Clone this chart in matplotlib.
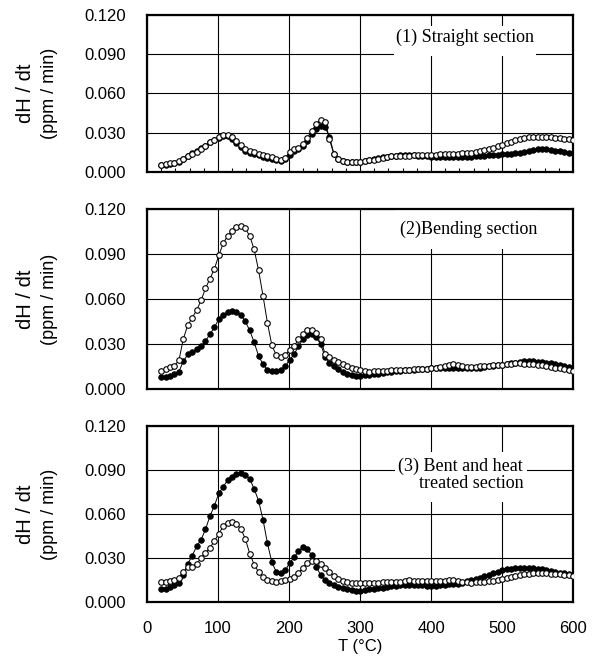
import matplotlib
matplotlib.use("Agg")
import matplotlib.pyplot as plt
import numpy as np
from matplotlib.patches import Rectangle
from matplotlib.ticker import MultipleLocator, FormatStrFormatter

plt.rcParams["font.family"] = ["Liberation Sans", "DejaVu Sans"]

# measurement temperatures (deg C)
temperature = np.linspace(20, 600, 94)

# (1) straight section
straight_open = [
    0.0054, 0.0059, 0.0065, 0.0067, 0.0082, 0.0100, 0.0120, 0.0138, 0.0155, 0.0178,
    0.0198, 0.0226, 0.0245, 0.0270, 0.0283, 0.0281, 0.0267, 0.0235, 0.0203, 0.0175,
    0.0160, 0.0150, 0.0141, 0.0130, 0.0119, 0.0112, 0.0098, 0.0092, 0.0110, 0.0150,
    0.0175, 0.0185, 0.0215, 0.0260, 0.0315, 0.0365, 0.0400, 0.0385, 0.0250, 0.0135,
    0.0097, 0.0084, 0.0078, 0.0075, 0.0074, 0.0076, 0.0082, 0.0088, 0.0095, 0.0103,
    0.0110, 0.0115, 0.0120, 0.0122, 0.0123, 0.0124, 0.0125, 0.0126, 0.0127, 0.0128,
    0.0129, 0.0130, 0.0132, 0.0134, 0.0135, 0.0137, 0.0138, 0.0140, 0.0142, 0.0145,
    0.0148, 0.0152, 0.0158, 0.0165, 0.0175, 0.0185, 0.0195, 0.0205, 0.0218, 0.0232,
    0.0245, 0.0253, 0.0260, 0.0265, 0.0267, 0.0268, 0.0267, 0.0266, 0.0265, 0.0263,
    0.0260, 0.0255, 0.0250, 0.0245,
]
straight_filled = [
    0.0050, 0.0055, 0.0060, 0.0065, 0.0080, 0.0100, 0.0122, 0.0142, 0.0160, 0.0182,
    0.0202, 0.0226, 0.0243, 0.0262, 0.0275, 0.0272, 0.0255, 0.0222, 0.0190, 0.0162,
    0.0146, 0.0137, 0.0128, 0.0118, 0.0108, 0.0100, 0.0090, 0.0085, 0.0098, 0.0130,
    0.0160, 0.0175, 0.0200, 0.0240, 0.0290, 0.0330, 0.0352, 0.0345, 0.0270, 0.0140,
    0.0098, 0.0085, 0.0080, 0.0078, 0.0078, 0.0080, 0.0085, 0.0090, 0.0097, 0.0105,
    0.0112, 0.0117, 0.0122, 0.0125, 0.0127, 0.0128, 0.0128, 0.0127, 0.0125, 0.0122,
    0.0120, 0.0118, 0.0117, 0.0116, 0.0115, 0.0114, 0.0113, 0.0113, 0.0114, 0.0116,
    0.0118, 0.0120, 0.0122, 0.0124, 0.0126, 0.0128, 0.0131, 0.0134, 0.0137, 0.0140,
    0.0144, 0.0148, 0.0153, 0.0160, 0.0167, 0.0172, 0.0174, 0.0172, 0.0168, 0.0163,
    0.0158, 0.0153, 0.0148, 0.0143,
]

# (2) bending section
bending_open = [
    0.0122, 0.0133, 0.0149, 0.0156, 0.0190, 0.0335, 0.0425, 0.0475, 0.0525, 0.0590,
    0.0670, 0.0735, 0.0800, 0.0890, 0.0970, 0.1020, 0.1055, 0.1082, 0.1088, 0.1070,
    0.1020, 0.0930, 0.0790, 0.0620, 0.0440, 0.0290, 0.0225, 0.0216, 0.0225, 0.0260,
    0.0285, 0.0330, 0.0365, 0.0390, 0.0395, 0.0375, 0.0330, 0.0235, 0.0212, 0.0196,
    0.0182, 0.0168, 0.0155, 0.0142, 0.0130, 0.0124, 0.0118, 0.0116, 0.0117, 0.0118,
    0.0120, 0.0122, 0.0124, 0.0126, 0.0127, 0.0128, 0.0129, 0.0130, 0.0131, 0.0133,
    0.0135, 0.0138, 0.0140, 0.0145, 0.0152, 0.0160, 0.0165, 0.0160, 0.0152, 0.0148,
    0.0147, 0.0148, 0.0150, 0.0152, 0.0155, 0.0157, 0.0160, 0.0162, 0.0165, 0.0168,
    0.0170, 0.0170, 0.0169, 0.0168, 0.0166, 0.0162, 0.0157, 0.0152, 0.0148, 0.0143,
    0.0138, 0.0133, 0.0127, 0.0122,
]
bending_filled = [
    0.0078, 0.0082, 0.0089, 0.0100, 0.0115, 0.0185, 0.0230, 0.0246, 0.0265, 0.0285,
    0.0320, 0.0365, 0.0410, 0.0466, 0.0490, 0.0510, 0.0520, 0.0512, 0.0495, 0.0450,
    0.0390, 0.0310, 0.0220, 0.0165, 0.0128, 0.0117, 0.0118, 0.0128, 0.0150, 0.0195,
    0.0230, 0.0285, 0.0330, 0.0360, 0.0365, 0.0345, 0.0300, 0.0215, 0.0172, 0.0150,
    0.0130, 0.0115, 0.0102, 0.0093, 0.0088, 0.0087, 0.0090, 0.0094, 0.0098, 0.0102,
    0.0106, 0.0110, 0.0114, 0.0118, 0.0121, 0.0124, 0.0126, 0.0128, 0.0130, 0.0133,
    0.0136, 0.0138, 0.0139, 0.0139, 0.0138, 0.0138, 0.0140, 0.0142, 0.0140, 0.0138,
    0.0138, 0.0140, 0.0143, 0.0147, 0.0150, 0.0154, 0.0158, 0.0162, 0.0167, 0.0172,
    0.0176, 0.0180, 0.0184, 0.0187, 0.0186, 0.0183, 0.0180, 0.0176, 0.0172, 0.0166,
    0.0160, 0.0153, 0.0146, 0.0140,
]

# (3) bent and heat treated section
treated_open = [
    0.0134, 0.0139, 0.0145, 0.0150, 0.0165, 0.0205, 0.0238, 0.0242, 0.0262, 0.0298,
    0.0335, 0.0370, 0.0415, 0.0465, 0.0515, 0.0540, 0.0548, 0.0530, 0.0500, 0.0430,
    0.0330, 0.0255, 0.0205, 0.0172, 0.0152, 0.0142, 0.0138, 0.0140, 0.0147, 0.0155,
    0.0170, 0.0200, 0.0235, 0.0265, 0.0280, 0.0278, 0.0260, 0.0230, 0.0205, 0.0180,
    0.0158, 0.0142, 0.0135, 0.0132, 0.0131, 0.0131, 0.0132, 0.0132, 0.0133, 0.0133,
    0.0134, 0.0134, 0.0135, 0.0135, 0.0136, 0.0140, 0.0148, 0.0145, 0.0140, 0.0140,
    0.0142, 0.0143, 0.0142, 0.0141, 0.0145, 0.0150, 0.0148, 0.0142, 0.0137, 0.0134,
    0.0133, 0.0134, 0.0136, 0.0138, 0.0140, 0.0143, 0.0148, 0.0155, 0.0162, 0.0170,
    0.0177, 0.0183, 0.0188, 0.0192, 0.0195, 0.0196, 0.0196, 0.0195, 0.0194, 0.0192,
    0.0189, 0.0186, 0.0183, 0.0180,
]
treated_filled = [
    0.0086, 0.0090, 0.0105, 0.0116, 0.0128, 0.0185, 0.0260, 0.0315, 0.0380, 0.0425,
    0.0495, 0.0585, 0.0655, 0.0740, 0.0785, 0.0830, 0.0855, 0.0872, 0.0877, 0.0868,
    0.0840, 0.0770, 0.0690, 0.0560, 0.0400, 0.0270, 0.0205, 0.0200, 0.0215, 0.0265,
    0.0305, 0.0345, 0.0375, 0.0360, 0.0320, 0.0240, 0.0185, 0.0148, 0.0132, 0.0117,
    0.0102, 0.0094, 0.0086, 0.0080, 0.0077, 0.0078, 0.0082, 0.0086, 0.0089, 0.0093,
    0.0098, 0.0103, 0.0108, 0.0112, 0.0115, 0.0116, 0.0116, 0.0115, 0.0114, 0.0113,
    0.0112, 0.0111, 0.0112, 0.0114, 0.0117, 0.0120, 0.0122, 0.0124, 0.0128, 0.0140,
    0.0148, 0.0155, 0.0165, 0.0175, 0.0185, 0.0195, 0.0205, 0.0215, 0.0222, 0.0228,
    0.0232, 0.0234, 0.0234, 0.0233, 0.0230, 0.0226, 0.0222, 0.0218, 0.0214, 0.0208,
    0.0200, 0.0195, 0.0190, 0.0184,
]

panel_titles = ["(1) Straight section", "(2)Bending section", "(3) Bent and heat\ntreated section"]
open_series = [straight_open, bending_open, treated_open]
filled_series = [straight_filled, bending_filled, treated_filled]

axes_pos = [
    [0.2454, 0.7402, 0.7112, 0.2372],
    [0.2454, 0.4124, 0.7112, 0.2719],
    [0.2454, 0.0906, 0.7112, 0.2659],
]
# white boxes behind the panel titles (axes coords: x0, y0, w, h)
title_boxes = [
    (0.580, 0.739, 0.333, 0.191),
    (0.582, 0.778, 0.341, 0.222),
    (0.582, 0.568, 0.310, 0.284),
]
title_xy = [(0.746, 0.860, "center"), (0.756, 0.889, "center"), (0.883, 0.722, "right")]

fig = plt.figure(figsize=(5.99, 6.62), dpi=100)

for i in range(3):
    ax = fig.add_axes(axes_pos[i])
    ax.plot(temperature, filled_series[i], "-o", color="black", lw=0.7,
            ms=4, mfc="black", mec="black", mew=0.6, zorder=3)
    ax.plot(temperature, open_series[i], "-o", color="black", lw=0.7,
            ms=4, mfc="white", mec="black", mew=0.8, zorder=4)

    ax.set_xlim(0, 600)
    ax.set_ylim(0, 0.12)
    ax.set_xticks(range(0, 601, 100))
    ax.set_yticks(np.arange(0, 0.1201, 0.03))
    ax.yaxis.set_major_formatter(FormatStrFormatter("%.3f"))
    ax.grid(True, color="black", lw=0.8)
    for sp in ax.spines.values():
        sp.set_linewidth(1.6)
    ax.tick_params(axis="both", which="major", length=0, labelsize=12)
    ax.tick_params(axis="y", pad=15)
    ax.tick_params(axis="x", pad=14)
    if i < 2:
        ax.tick_params(axis="x", labelbottom=False)
    if i == 0:
        ax.xaxis.set_minor_locator(MultipleLocator(20))
        ax.tick_params(axis="x", which="minor", direction="in", length=3, width=0.8)

    x0, y0, w, h = title_boxes[i]
    ax.add_patch(Rectangle((x0, y0), w, h, transform=ax.transAxes,
                           facecolor="white", edgecolor="none", zorder=2))
    tx, ty, ha = title_xy[i]
    ax.text(tx, ty, panel_titles[i], transform=ax.transAxes, ha=ha, va="center",
            multialignment="right", fontsize=13, linespacing=1.0,
            family="Liberation Serif", zorder=5)

    ax.text(-0.285, 0.5, "dH / dt", transform=ax.transAxes, rotation=90,
            ha="center", va="center", fontsize=14.5)
    ax.text(-0.229, 0.5, "(ppm / min)", transform=ax.transAxes, rotation=90,
            ha="center", va="center", fontsize=13)

    if i == 2:
        ax.set_xlabel("T (°C)", fontsize=12, labelpad=2)

fig.savefig("out.png", dpi=100)
